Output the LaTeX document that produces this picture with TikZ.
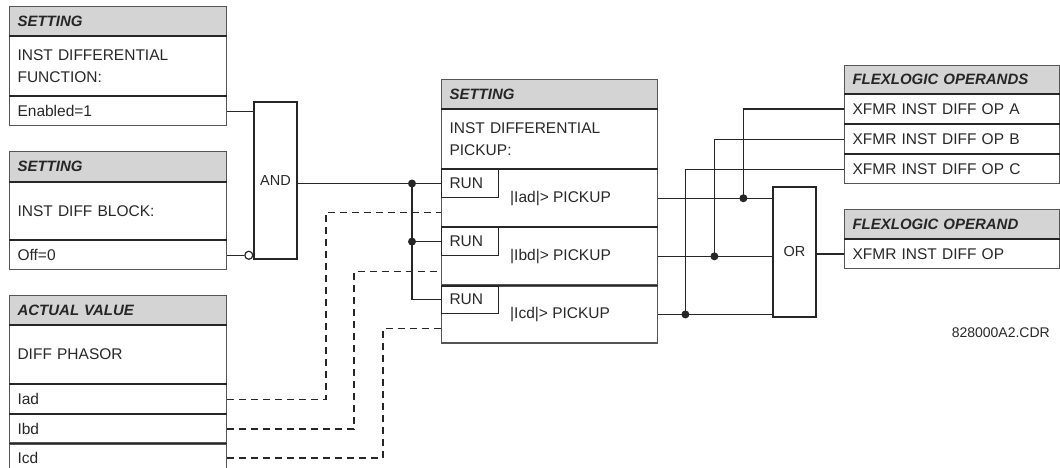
\documentclass[tikz,border=0pt]{standalone}
\usepackage{fontspec}
\setmainfont{Liberation Sans}
\usetikzlibrary{positioning,calc}
\definecolor{hdrgray}{RGB}{212,212,212}
\definecolor{framegray}{RGB}{85,85,85}
\definecolor{txtgray}{RGB}{40,40,40}
\begin{document}
\begin{tikzpicture}[x=1pt,y=-1pt,
  box/.style={draw=framegray,line width=1.1pt,inner xsep=8pt,inner ysep=0pt,anchor=north west,
    align=left,text=txtgray,font=\fontsize{15.5}{22}\selectfont},
  hdr/.style={box,fill=hdrgray,text=black!85,font=\fontsize{15}{17}\selectfont\bfseries\itshape},
  sep/.style={line width=1.8pt,black!85},
  sig/.style={line width=1.4pt,black!85},
  dsig/.style={sig,dash pattern=on 7pt off 5pt},
  gate/.style={draw=black!85,line width=1.2pt,text=txtgray,font=\fontsize{14.5}{17}\selectfont},
  dot/.style={circle,fill=black!85,inner sep=0pt,minimum size=8pt}]
  \useasboundingbox (0,0) rectangle (1060,468);
  \node[hdr,text width=201pt,minimum height=29pt] (fnhdr) at (9,6) {SETTING};
  \node[box,text width=201pt,minimum height=59pt] (fnbody) at (fnhdr.south west) {INST DIFFERENTIAL\\FUNCTION:};
  \node[box,text width=201pt,minimum height=29pt] (enab) at (fnbody.south west) {Enabled=1};
  \node[hdr,text width=201pt,minimum height=30pt] (blkhdr) at (9,151) {SETTING};
  \node[box,text width=201pt,minimum height=57pt] (blkbody) at (blkhdr.south west) {INST DIFF BLOCK:};
  \node[box,text width=201pt,minimum height=29pt] (offz) at (blkbody.south west) {Off=0};
  \node[hdr,text width=201pt,minimum height=29pt] (acthdr) at (9,295) {ACTUAL VALUE};
  \node[box,text width=201pt,minimum height=58pt] (actbody) at (acthdr.south west) {DIFF PHASOR};
  \node[box,text width=201pt,minimum height=29pt] (iad) at (actbody.south west) {Iad};
  \node[box,text width=201pt,minimum height=28pt] (ibd) at (iad.south west) {Ibd};
  \node[box,text width=201pt,minimum height=28pt] (icd) at (ibd.south west) {Icd};
  \node[gate,minimum width=43pt,minimum height=157pt] (and) at (275.5,180.5) {AND};
  \node[hdr,text width=200pt,minimum height=29pt] (pkhdr) at (441,79) {SETTING};
  \node[box,text width=200pt,minimum height=59pt] (pkbody) at (pkhdr.south west) {INST DIFFERENTIAL\\PICKUP:};
  \node[box,text width=200pt,minimum height=57pt] (secA) at (pkbody.south west) {};
  \node[box,text width=200pt,minimum height=57pt] (secB) at (secA.south west) {};
  \node[box,text width=200pt,minimum height=57pt] (secC) at (secB.south west) {};
  \node[box,draw=black!85,text width=41pt,minimum height=27.5pt] (runA) at (secA.north west) {RUN};
  \node[box,draw=black!85,text width=41pt,minimum height=27.5pt] (runB) at (secB.north west) {RUN};
  \node[box,draw=black!85,text width=41pt,minimum height=27.5pt] (runC) at (secC.north west) {RUN};
  \node[anchor=west,inner sep=0pt,text=txtgray,font=\fontsize{15.5}{22}\selectfont] (pkA) at ([xshift=69pt]secA.west) {|Iad|> PICKUP};
  \node[anchor=west,inner sep=0pt,text=txtgray,font=\fontsize{15.5}{22}\selectfont] (pkB) at ([xshift=69pt]secB.west) {|Ibd|> PICKUP};
  \node[anchor=west,inner sep=0pt,text=txtgray,font=\fontsize{15.5}{22}\selectfont] (pkC) at ([xshift=69pt]secC.west) {|Icd|> PICKUP};
  \node[gate,minimum width=43pt,minimum height=130pt] (or) at (794.5,252) {OR};
  \node[hdr,text width=199pt,minimum height=28pt] (flxhdr) at (844,65) {FLEXLOGIC OPERANDS};
  \node[box,text width=199pt,minimum height=29pt] (opA) at (flxhdr.south west) {XFMR INST DIFF OP A};
  \node[box,text width=199pt,minimum height=29pt] (opB) at (opA.south west) {XFMR INST DIFF OP B};
  \node[box,text width=199pt,minimum height=29pt] (opC) at (opB.south west) {XFMR INST DIFF OP C};
  \node[hdr,text width=199pt,minimum height=29pt] (ophdr) at (844,209) {FLEXLOGIC OPERAND};
  \node[box,text width=199pt,minimum height=29pt] (op) at (ophdr.south west) {XFMR INST DIFF OP};
  \node[anchor=east,inner sep=0pt,text=txtgray,font=\fontsize{14}{17}\selectfont] (cdr) at (1050,333) {828000A2.CDR};
  \foreach \n in {fnhdr,fnbody,blkhdr,blkbody,acthdr,actbody,iad,ibd,pkhdr,pkbody,secA,secB,flxhdr,opA,opB,ophdr}
    \draw[sep] (\n.south west) -- (\n.south east);
  \node[circle,draw=black!85,line width=1.2pt,fill=white,inner sep=0pt,minimum size=8pt,anchor=east] (inv) at (offz.east -| and.west) {};
  \draw[sig] (enab.east) -- (enab.east -| and.west);
  \draw[sig] (offz.east) -- (inv.west);
  \coordinate[left=29pt of runA.west] (jA);
  \draw[sig] (runA.west -| and.east) -- (runA.west);
  \draw[sig] (jA) |- (runC.west);
  \draw[sig] (jA |- runB.west) -- (runB.west);
  \node[dot] (dA) at (jA) {};
  \node[dot] (dB) at (jA |- runB.west) {};
  \coordinate[above=15pt of secA.south west] (inA);
  \coordinate[above=14pt of secB.south west] (inB);
  \coordinate[above=15pt of secC.south west] (inC);
  \draw[dsig] (iad.east) -| ([xshift=-115pt]inA) -- (inA);
  \draw[dsig] (ibd.east) -| ([xshift=-87pt]inB) -- (inB);
  \draw[dsig] (icd.east) -| ([xshift=-58pt]inC) -- (inC);
  \coordinate (oA) at ($(or.west |- secA.east)+(-29,0)$);
  \coordinate (oB) at ($(or.west |- secB.east)+(-58,0)$);
  \coordinate (oC) at ($(or.west |- secC.east)+(-87,0)$);
  \draw[sig] (secA.east) -- (secA.east -| or.west);
  \draw[sig] (secB.east) -- (secB.east -| or.west);
  \draw[sig] (secC.east) -- (secC.east -| or.west);
  \draw[sig] (oA) |- (opA.west);
  \draw[sig] (oB) |- (opB.west);
  \draw[sig] (oC) |- (opC.west);
  \node[dot] (dotA) at (oA) {};
  \node[dot] (dotB) at (oB) {};
  \node[dot] (dotC) at (oC) {};
  \draw[sig] (or.east |- op.west) -- (op.west);
\end{tikzpicture}
\end{document}
